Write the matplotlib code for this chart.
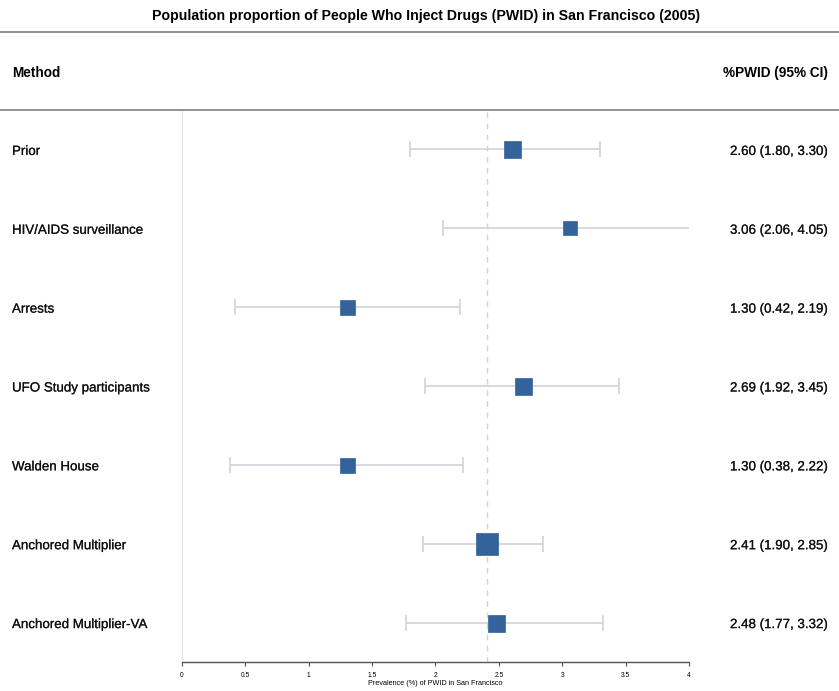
import matplotlib
matplotlib.use("Agg")
import matplotlib.pyplot as plt
import matplotlib.patheffects as pe
from matplotlib.lines import Line2D

plt.rcParams['font.family'] = ['Liberation Sans', 'DejaVu Sans']

# data
methods = ['Prior', 'HIV/AIDS surveillance', 'Arrests', 'UFO Study participants',
           'Walden House', 'Anchored Multiplier', 'Anchored Multiplier-VA']
est = [2.60, 3.06, 1.30, 2.69, 1.30, 2.41, 2.48]
lo = [1.80, 2.06, 0.42, 1.92, 0.38, 1.90, 1.77]
hi = [3.30, 4.05, 2.19, 3.45, 2.22, 2.85, 3.32]
weight = [17, 14, 15, 17, 15, 23, 17]   # box width in pixels
ref_line = 2.41
xticks = [0, 0.5, 1, 1.5, 2, 2.5, 3, 3.5, 4]
xticklabels = ['0', '0.5', '1', '1.5', '2', '2.5', '3', '3.5', '4']

W, H = 839, 691
fig = plt.figure(figsize=(W / 100, H / 100), dpi=100)

# axes: x=0 at 182px, x=4 at 689px ; top 110px, bottom 662px
left, right = 182, 689
top, bottom = 110, 662
ax = fig.add_axes([left / W, 1 - bottom / H, (right - left) / W, (bottom - top) / H])
ax.set_xlim(0, 4)
ax.set_ylim(len(methods) - 0.5, -0.5)

blue = '#33639a'
grey = '#cfd3d8'
thick = [pe.withStroke(linewidth=0.15, foreground='#222222')]

ax.axvline(0, color='#d9dcdf', lw=1.2, zorder=1)
ax.axvline(ref_line, color='#cfd3d8', lw=1.0, ls=(0, (4, 4)), zorder=1)

for i in range(len(methods)):
    ax.errorbar(est[i], i, xerr=[[est[i] - lo[i]], [hi[i] - est[i]]], fmt='none',
                ecolor=grey, elinewidth=1.2, capsize=5.8, capthick=1.2, zorder=2)
    ax.plot(est[i], i, marker='s', ms=weight[i] * 0.72, color=blue, mec=blue,
            mew=0.5, zorder=3)
    ypos = 1 - (top + (i + 0.5) * (bottom - top) / len(methods) + 2.5) / H
    ax.text(12 / W, ypos, methods[i], transform=fig.transFigure, ha='left', va='center',
            fontsize=9.6, color='#111111', path_effects=thick)
    ax.text(730 / W, ypos, '%.2f (%.2f, %.2f)' % (est[i], lo[i], hi[i]),
            transform=fig.transFigure, ha='left', va='center', fontsize=9.6,
            color='#111111', path_effects=thick)

for s in ['top', 'right', 'left']:
    ax.spines[s].set_visible(False)
ax.spines['bottom'].set_color('#555555')
ax.spines['bottom'].set_linewidth(1.0)
ax.set_yticks([])
ax.set_xticks(xticks)
ax.set_xticklabels(xticklabels, fontsize=4.8)
ax.tick_params(axis='x', length=3, width=0.8, color='#555555', pad=4.5)
ax.set_xlabel('Prevalence (%) of PWID in San Francisco', fontsize=5.2, labelpad=0.5)

# header
fig.text(0.5 * (109 + 743) / W, 1 - 16 / H,
         'Population proportion of People Who Inject Drugs (PWID) in San Francisco (2005)',
         ha='center', va='center', fontsize=10.2, fontweight='bold')
fig.text(12 / W, 1 - 73 / H, 'Method', ha='left', va='center', fontsize=9.8, fontweight='bold')
fig.text(723 / W, 1 - 73 / H, '%PWID (95% CI)', ha='left', va='center', fontsize=9.8,
         fontweight='bold')
for yy in [32, 110]:
    fig.add_artist(Line2D([0, 1], [1 - yy / H, 1 - yy / H], color='#8a8a8a', lw=1.3))

plt.savefig('out.png', dpi=100)
